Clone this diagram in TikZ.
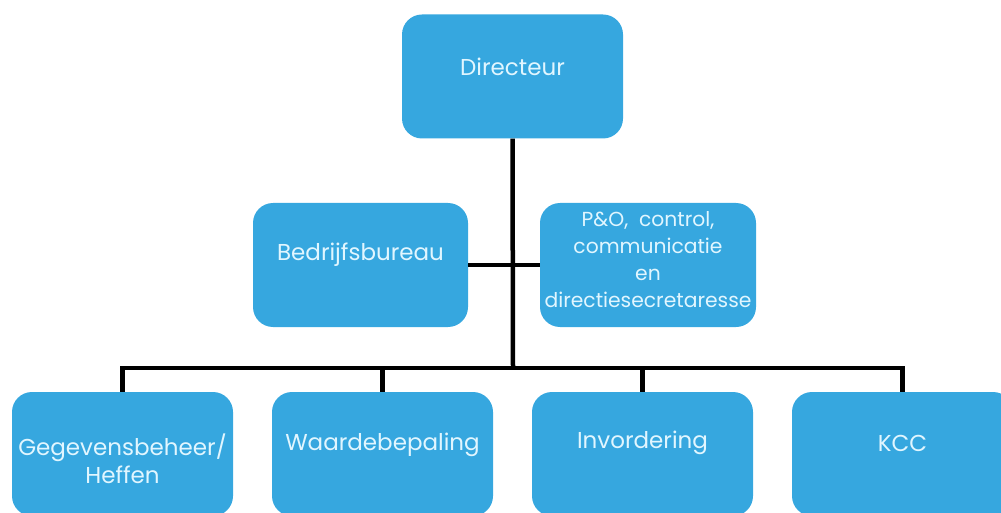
\documentclass[tikz,border=0pt]{standalone}
\usepackage{fontspec}
\setmainfont{Poppins}
\definecolor{boxblue}{RGB}{54,167,223}
\definecolor{boxtext}{RGB}{225,246,255}
\begin{document}
\begin{tikzpicture}[x=1pt,y=-1pt,
  orgbox/.style={draw=none,fill=boxblue,rounded corners=20pt,minimum width=221pt,minimum height=124pt,inner sep=0pt},
  orgtext/.style={text=boxtext,align=center,font=\fontsize{23}{28}\selectfont,inner sep=0pt},
  link/.style={draw=black,line width=4.5pt,line join=miter}]
\useasboundingbox (0,0) rectangle (1001,513);
\node[orgbox] (dir) at (512.5,76.5) {};
\node[orgtext] (dirt) at ([yshift=10pt]dir.center) {Directeur};
\node[orgbox,minimum width=215pt] (bed) at (360.5,265) {};
\node[orgtext] (bedt) at ([yshift=10pt]bed.center) {Bedrijfsbureau};
\node[orgbox,minimum width=216pt] (po) at (648,265) {};
\node[orgtext,font=\fontsize{20.3}{27}\selectfont] (pot) at ([yshift=5pt]po.center) {P\&O,\ \ control,\\communicatie\\en\\directiesecretaresse};
\node[orgbox] (b1) at (122.5,454) {};
\node[orgtext] (b1t) at ([yshift=-5pt]b1.center) {Gegevensbeheer/\\Heffen};
\node[orgbox] (b2) at (382.5,454) {};
\node[orgtext] (b2t) at ([yshift=9pt]b2.center) {Waardebepaling};
\node[orgbox] (b3) at (642.5,454) {};
\node[orgtext] (b3t) at ([yshift=11pt]b3.center) {Invordering};
\node[orgbox] (b4) at (902.5,454) {};
\node[orgtext] (b4t) at ([yshift=11pt]b4.center) {KCC};
\coordinate (bus) at (513,368);
\draw[link] (dir.south) -- (bus);
\draw[link] (bed.east) -- (po.west);
\draw[link] (b1.north) |- (bus) -| (b4.north);
\draw[link] (b2.north) -- (b2.north |- bus);
\draw[link] (b3.north) -- (b3.north |- bus);
\end{tikzpicture}
\end{document}
